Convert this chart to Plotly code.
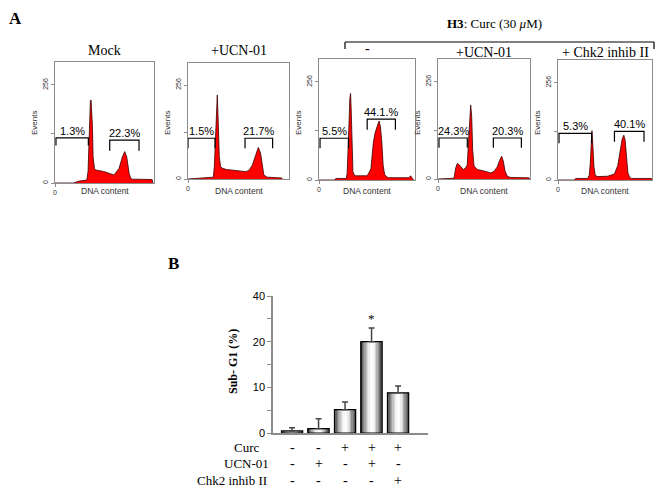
import plotly.graph_objects as go

# ---------------- DATA ----------------
# Panel A: DNA content histograms (channel, events)
panel_titles = ["Mock", "+UCN-01", "-", "+UCN-01", "+ Chk2 inhib II"]

mock_ch = [0, 190, 250, 330, 342, 352, 359, 366, 373, 380, 387, 394, 408, 420, 505, 610, 662, 697, 721, 742, 767, 784, 801, 1005, 1012]
mock_ev = [0, 0, 5, 8, 30, 112, 191, 214, 217, 190, 150, 69, 38, 34, 30, 21, 38, 68, 82, 68, 25, 12, 10, 9, 0]

ucn_ch = [0, 76, 257, 267, 277, 287, 297, 307, 317, 330, 350, 389, 488, 587, 620, 653, 686, 713, 736, 752, 769, 802, 950, 955]
ucn_ev = [0, 2, 5, 34, 106, 188, 229, 152, 61, 34, 29, 26, 23, 20, 24, 38, 65, 86, 70, 38, 11, 5, 3, 0]

curc_ch = [0, 163, 181, 290, 300, 311, 322, 329, 337, 344, 351, 362, 380, 507, 525, 554, 579, 597, 619, 641, 655, 670, 684, 699, 724, 742, 959, 977, 996, 1010]
curc_ev = [0, 0, 4, 4, 17, 74, 161, 213, 226, 178, 91, 22, 11, 11, 15, 30, 96, 122, 139, 154, 139, 100, 39, 15, 8, 6, 6, 11, 4, 0]

curc_ucn_ch = [0, 178, 197, 215, 234, 260, 282, 308, 326, 341, 352, 364, 375, 386, 401, 438, 512, 586, 623, 660, 686, 709, 727, 746, 772, 809, 1013, 1018]
curc_ucn_ev = [0, 2, 29, 41, 38, 32, 25, 29, 38, 104, 165, 195, 165, 77, 34, 25, 21, 16, 20, 32, 49, 60, 47, 21, 7, 4, 3, 0]

curc_chk2_ch = [0, 176, 194, 322, 340, 351, 362, 370, 381, 392, 406, 432, 542, 615, 651, 677, 699, 717, 732, 747, 761, 780, 798, 1017, 1022]
curc_chk2_ev = [0, 0, 4, 4, 12, 42, 95, 130, 86, 34, 12, 9, 10, 16, 38, 77, 108, 118, 104, 60, 20, 7, 4, 4, 0]

# gates: sub-G1 (left) and G2/M (right): channel lo, hi, bracket top, bracket foot (events)
subg1_gate = [(10, 345, 118, 98), (0, 274, 111, 84), (11, 315, 109, 83), (11, 326, 108, 82), (11, 366, 123, 97)]
g2_gate = [(566, 869, 112, 84), (578, 858, 111, 84), (514, 815, 159, 131), (616, 928, 108, 82), (615, 937, 128, 101)]
subg1_pct = ["1.3%", "1.5%", "5.5%", "24.3%", "5.3%"]
g2_pct = ["22.3%", "21.7%", "44.1.%", "20.3%", "40.1%"]

# Panel B: Sub-G1 (%)
sub_g1 = [0.45, 0.95, 5.1, 20.0, 8.8]
sub_g1_err = [0.7, 2.15, 1.7, 3.0, 1.5]
curc = ["-", "-", "+", "+", "+"]
ucn01 = ["-", "+", "-", "+", "-"]
chk2 = ["-", "-", "-", "-", "+"]
b_ticks = [0, 5, 10, 15, 20, 25, 30]
b_ticktext = ["0", "", "10", "", "20", "", "40"]

# ---------------- LAYOUT HELPERS ----------------
# page has an 8 px body margin: the figure fills the rest of the 664x493 window
OFF = 8
W, H = 664 - OFF, 493 - OFF
def fx(x): return (x - OFF) / W
def fy(y): return 1 - (y - OFF) / H

SERIF = "Liberation Serif"
SANS = "Liberation Sans"

hist_x = [mock_ch, ucn_ch, curc_ch, curc_ucn_ch, curc_chk2_ch]
hist_y = [mock_ev, ucn_ev, curc_ev, curc_ucn_ev, curc_chk2_ev]
boxes = [(55, 154, 62, 183), (188, 289, 63, 179), (319, 415, 59, 180), (438, 530, 59, 179), (558, 652, 60, 180)]
title_y = [50, 50, 48, 52, 52]

fig = go.Figure()
layout = dict(width=W, height=H, margin=dict(l=0, r=0, t=0, b=0),
              paper_bgcolor="white", plot_bgcolor="white", showlegend=False,
              annotations=[], shapes=[])
ann = layout["annotations"]
FRAME = "#8c8c8c"

def note(x, y, text, size, family, color="black", **kw):
    d = dict(x=fx(x), y=fy(y), xref="paper", yref="paper", text=text, showarrow=False,
             xanchor="center", yanchor="middle", font=dict(size=size, family=family, color=color))
    d.update(kw)
    ann.append(d)

for i in range(5):
    n = "" if i == 0 else str(i + 1)
    xa, ya = "x" + n, "y" + n
    l, r, t, b = boxes[i]
    layout["xaxis" + n] = dict(domain=[fx(l), fx(r)], anchor=ya, range=[0, 1024],
                               showline=True, mirror=True, linecolor=FRAME, linewidth=1,
                               showgrid=False, zeroline=False, ticks="outside", ticklen=3,
                               tickcolor=FRAME, tickvals=[0], ticktext=["0"],
                               tickfont=dict(size=7, family=SANS, color="#333"), automargin=False)
    layout["yaxis" + n] = dict(domain=[fy(b), fy(t)], anchor=xa, range=[0, 316],
                               showline=True, mirror=True, linecolor=FRAME, linewidth=1,
                               showgrid=False, zeroline=False, ticks="outside", ticklen=3,
                               tickcolor=FRAME, tickvals=[0, 128, 256], ticktext=["0", "", "256"],
                               tickangle=-90, tickfont=dict(size=7, family=SANS, color="#333"),
                               automargin=False)
    fig.add_trace(go.Scatter(x=hist_x[i], y=hist_y[i], xaxis=xa, yaxis=ya, mode="lines",
                             fill="tozeroy", fillcolor="#ff0000",
                             line=dict(color="#3a0000", width=0.8)))
    for gate, txt in ((subg1_gate[i], subg1_pct[i]), (g2_gate[i], g2_pct[i])):
        lo, hi, top, foot = gate
        fig.add_trace(go.Scatter(x=[lo, lo, hi, hi], y=[foot, top, top, foot], xaxis=xa, yaxis=ya,
                                 mode="lines", line=dict(color="black", width=1.2)))
        ann.append(dict(x=(lo + hi) / 2, y=top, xref=xa, yref=ya, text=txt, showarrow=False,
                        xanchor="center", yanchor="bottom", yshift=-1,
                        font=dict(size=11, family=SANS, color="black")))
    note((l + r) / 2, title_y[i], panel_titles[i], 14, SERIF)
    note(l - 21, 123, "Events", 8, SANS, "#333", textangle=-90)
    note((l + r) / 2, 191, "DNA content", 8.5, SANS, "#333")

# Panel labels and H3 bracket
note(15, 18, "<b>A</b>", 17, SERIF)
note(173, 263, "<b>B</b>", 17, SERIF)
note(494, 24, "<b>H3</b>: Curc (30 <i>μ</i>M)", 13, SERIF)
for (x0, y0, x1, y1) in [(345, 42, 654, 42), (345, 42, 345, 49), (654, 42, 654, 49)]:
    layout["shapes"].append(dict(type="line", xref="paper", yref="paper", x0=fx(x0), y0=fy(y0),
                                 x1=fx(x1), y1=fy(y1), line=dict(color="black", width=1.2)))

# ---------------- PANEL B ----------------
xb = list(range(len(sub_g1)))
strip_colors = ["#4a4a4a", "#666666", "#858585", "#a3a3a3", "#c0c0c0", "#d9d9d9", "#ececec", "#f8f8f8",
                "#ffffff", "#fafafa", "#ebebeb", "#d2d2d2", "#b2b2b2", "#909090", "#707070", "#555555"]
bw = 0.8
ns = len(strip_colors)
for k, c in enumerate(strip_colors):
    fig.add_trace(go.Bar(x=xb, y=sub_g1, xaxis="x6", yaxis="y6", width=bw / ns + 0.002,
                         offset=-bw / 2 + k * bw / ns, marker=dict(color=c, line=dict(width=0))))
fig.add_trace(go.Bar(x=xb, y=sub_g1, xaxis="x6", yaxis="y6", width=bw, offset=-bw / 2,
                     marker=dict(color="rgba(0,0,0,0)", line=dict(color="black", width=1.2)),
                     error_y=dict(type="data", array=sub_g1_err, arrayminus=[0] * 5, symmetric=False,
                                  color="#444", thickness=1.5, width=3)))
layout["barmode"] = "overlay"
layout["xaxis6"] = dict(domain=[fx(273), fx(428)], anchor="y6", range=[-0.72, 5.13],
                        showline=True, linecolor="#8c8c8c", linewidth=1.5, showgrid=False,
                        zeroline=False, showticklabels=False, ticks="", automargin=False)
layout["yaxis6"] = dict(domain=[fy(433), fy(296)], anchor="x6", range=[0, 30],
                        showline=True, linecolor="#8c8c8c", linewidth=1.5, showgrid=False,
                        zeroline=False, ticks="outside", ticklen=4, tickcolor="#8c8c8c",
                        tickvals=b_ticks, ticktext=b_ticktext,
                        tickfont=dict(size=11, family=SANS, color="black"), automargin=False)
ann.append(dict(x=3, y=sub_g1[3] + sub_g1_err[3], xref="x6", yref="y6", text="*", showarrow=False,
                xanchor="center", yanchor="bottom", yshift=0,
                font=dict(size=13, family=SERIF, color="black")))
note(233, 362, "<b>Sub- G1 (%)</b>", 12, SERIF, textangle=-90)

row_labels = ["Curc", "UCN-01", "Chk2 inhib II"]
row_vals = [curc, ucn01, chk2]
row_y = [447, 463, 480]
row_right = [262, 271, 269]
for lab, vals, yy, xr in zip(row_labels, row_vals, row_y, row_right):
    note(xr, yy, lab, 13, SERIF, xanchor="right")
    for j, v in enumerate(vals):
        ann.append(dict(x=xb[j], y=fy(yy), xref="x6", yref="paper", text=v, showarrow=False,
                        xanchor="center", yanchor="middle",
                        font=dict(size=14, family=SERIF, color="black")))

fig.update_layout(**layout)
fig.write_html("out.html")
